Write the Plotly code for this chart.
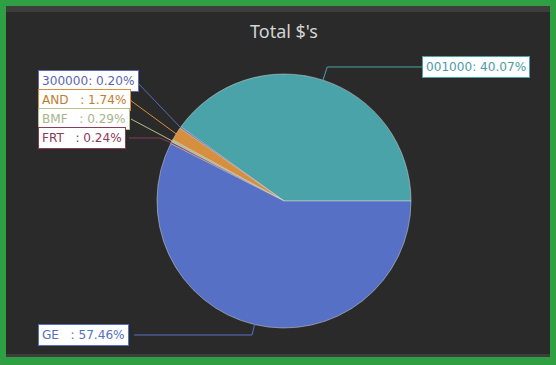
import math
import plotly.graph_objects as go

# ---- data ----
labels = ["001000", "300000", "AND", "BMF", "FRT", "GE"]
values = [40.07, 0.20, 1.74, 0.29, 0.24, 57.46]
slice_colors = ["#4aa3a9", "#5a6cb8", "#d58f3e", "#b4bf8e", "#8c3b55", "#5570c4"]
text_colors = ["#4a9aa6", "#5a64b0", "#c27c30", "#a9b48a", "#8b3a5a", "#5570c4"]
label_names = ["001000", "300000", "AND\u00a0\u00a0\u00a0", "BMF\u00a0\u00a0\u00a0", "FRT\u00a0\u00a0\u00a0", "GE\u00a0\u00a0\u00a0"]
title_text = "Total $'s"

W, H = 556, 365
CX, CY, R = 284, 201, 127

def px(x, y):
    return x / W, 1 - y / H

total = sum(values)
pcts = [v / total * 100 for v in values]

fig = go.Figure()
x0, y1 = px(CX - R, CY - R)
x1, y0 = px(CX + R, CY + R)
# first slice starts at 3 o'clock and runs counterclockwise
rotation = 90 - values[0] / total * 360
fig.add_trace(go.Pie(
    labels=labels, values=values, sort=False, direction="counterclockwise",
    rotation=rotation, textinfo="none", hoverinfo="label+percent",
    marker=dict(colors=slice_colors, line=dict(color="#d8d8d8", width=0.5)),
    domain=dict(x=[x0, x1], y=[y0, y1]), showlegend=False,
))

# label box placements (pixels): (x of box side, center y, side)
placements = {
    "001000": (422, 67, "right"),
    "300000": (38, 81, "left"),
    "AND": (38, 100, "left"),
    "BMF": (38, 119, "left"),
    "FRT": (38, 138, "left"),
    "GE": (38, 335, "left"),
}
box_right = {"300000": 136, "AND": 130, "BMF": 131, "FRT": 129, "GE": 134}

shapes = []
def rect(xa, ya, xb, yb, color):
    pa = px(xa, ya); pb = px(xb, yb)
    return dict(type="rect", xref="paper", yref="paper", x0=pa[0], y0=pb[1], x1=pb[0], y1=pa[1],
                fillcolor=color, line=dict(width=0), layer="below")
shapes.append(rect(6, 6, 550, 357, "#2a2a2a"))
shapes.append(rect(6, 6, 550, 12, "#3d3d3d"))
shapes.append(rect(6, 354, 550, 357, "#3d3d3d"))

annotations = []
cum = 0.0
for i, lab in enumerate(labels):
    frac = values[i] / total
    mid = (cum + frac / 2) * 360
    cum += frac
    a = math.radians(mid)
    ex, ey = CX + R * math.cos(a), CY - R * math.sin(a)
    bx, by, side = placements[lab]
    if side == "right":
        t = (CY - by) / math.sin(a)
        elx = CX + t * math.cos(a)
        pts = [(ex, ey), (elx, by), (bx, by)]
    else:
        rx = box_right[lab]
        if lab == "GE":
            t = (by - CY) / (-math.sin(a))
            elx = CX + t * math.cos(a)
            pts = [(ex, ey), (elx, by), (rx, by)]
        elif lab == "FRT":
            pts = [(ex, ey), (160, by), (rx, by)]
        else:
            pts = [(ex, ey), (rx, by)]
    path = "M " + " L ".join(f"{px(x, y)[0]:.5f},{px(x, y)[1]:.5f}" for x, y in pts)
    shapes.append(dict(type="path", xref="paper", yref="paper", path=path,
                       line=dict(color=slice_colors[i], width=1)))
    ax, ay = px(bx, by)
    annotations.append(dict(
        x=ax, y=ay, xref="paper", yref="paper", xanchor="left", yanchor="middle",
        text=f"{label_names[i]}: {pcts[i]:.2f}%", showarrow=False,
        font=dict(family="DejaVu Sans", size=12.1, color=text_colors[i]),
        bgcolor="#ffffff", bordercolor=slice_colors[i], borderwidth=1, borderpad=3,
    ))

tx, ty = px(284, 31)
annotations.append(dict(x=tx, y=ty, xref="paper", yref="paper", xanchor="center", yanchor="middle",
                        text=title_text, showarrow=False,
                        font=dict(family="Noto Sans", size=18, color="#d4d4d4")))

fig.update_layout(
    width=W, height=H, margin=dict(l=0, r=0, t=0, b=0),
    paper_bgcolor="#2ea043", plot_bgcolor="#2a2a2a",
    shapes=shapes, annotations=annotations, showlegend=False,
)
fig.write_html("out.html", config={"displayModeBar": False},
               post_script="document.body.style.margin='0';document.body.style.overflow='hidden';")
